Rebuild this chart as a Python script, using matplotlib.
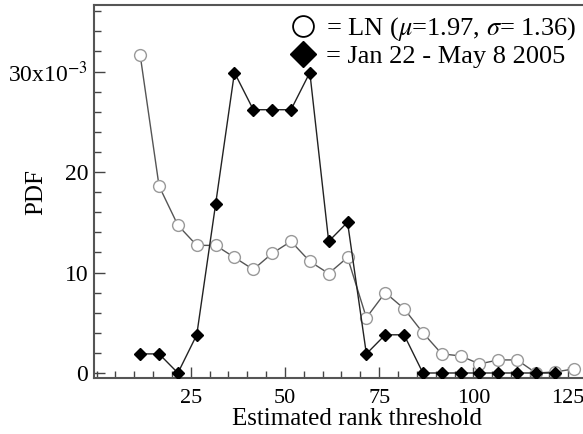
import matplotlib
matplotlib.use('Agg')
import matplotlib.pyplot as plt
from matplotlib.lines import Line2D
from matplotlib.ticker import MultipleLocator, FixedLocator, FixedFormatter

plt.rcParams['font.family'] = ['Liberation Serif', 'DejaVu Serif']
plt.rcParams['mathtext.fontset'] = 'stix'

# PDF values in units of 1e-3
rank_ln = [11.6, 16.6, 21.6, 26.6, 31.6, 36.6, 41.6, 46.6, 51.6, 56.6, 61.6, 66.6,
           71.6, 76.6, 81.6, 86.6, 91.6, 96.6, 101.6, 106.6, 111.6, 116.6, 121.6, 126.6]
pdf_ln = [31.6, 18.6, 14.7, 12.7, 12.7, 11.5, 10.3, 11.9, 13.1, 11.1, 9.9, 11.5,
          5.5, 8.0, 6.4, 4.0, 1.9, 1.7, 0.9, 1.3, 1.3, 0.0, 0.1, 0.4]

rank_obs = rank_ln[:23]
pdf_obs = [1.9, 1.9, 0.0, 3.8, 16.8, 29.9, 26.2, 26.2, 26.2, 29.9, 13.1, 15.0,
           1.9, 3.8, 3.8, 0.0, 0.0, 0.0, 0.0, 0.0, 0.0, 0.0, 0.0]

label_ln = r'= LN ($\mu$=1.97, $\sigma$= 1.36)'
label_obs = '= Jan 22 - May 8 2005'

fig = plt.figure(figsize=(5.83, 4.34), dpi=100)
ax = fig.add_axes([0.161, 0.129, 0.845, 0.859])

ax.plot(rank_ln, pdf_ln, color='#555555', lw=1.0, marker='o', ms=8.5,
        mfc='white', mec='#999999', mew=1.0, zorder=2)
ax.plot(rank_obs, pdf_obs, color='#222222', lw=1.0, marker='D', ms=6.5,
        mfc='black', mec='black', zorder=3)

ax.set_xlim(-0.7, 130)
ax.set_ylim(-0.5, 36.6)

ax.xaxis.set_major_locator(FixedLocator([25, 50, 75, 100, 125]))
ax.xaxis.set_minor_locator(MultipleLocator(5))
ax.yaxis.set_major_locator(FixedLocator([0, 10, 20, 30]))
ax.yaxis.set_major_formatter(FixedFormatter(['0', '10', '20', r'30x10$^{-3}$']))
ax.yaxis.set_minor_locator(MultipleLocator(2))

ax.tick_params(which='both', direction='in', top=False, right=False,
               color='#444444', width=1.0)
ax.tick_params(which='major', length=8)
ax.tick_params(axis='y', which='major', pad=4, labelsize=17)
ax.tick_params(axis='x', which='major', pad=8, labelsize=16)
ax.tick_params(which='minor', length=5)

for side in ['left', 'bottom', 'top']:
    ax.spines[side].set_color('#555555')
    ax.spines[side].set_linewidth(1.5)
ax.spines['right'].set_visible(False)

ax.set_ylabel('PDF', fontsize=18)
ax.yaxis.set_label_coords(-0.095, 0.5)
ax.set_xlabel('Estimated rank threshold', fontsize=18)
ax.xaxis.set_label_coords(0.535, -0.08)

handles = [
    Line2D([], [], ls='none', marker='o', ms=15, mfc='white', mec='black', mew=1.3),
    Line2D([], [], ls='none', marker='D', ms=13, mfc='black', mec='black'),
]
fig.legend(handles, [label_ln, label_obs], loc='upper left',
           bbox_to_anchor=(290 / 583, 1 - 15 / 434), frameon=False, fontsize=19,
           handlelength=1.0, handletextpad=0.35, labelspacing=0.05, borderpad=0,
           borderaxespad=0)

fig.savefig('out.png', dpi=100)
